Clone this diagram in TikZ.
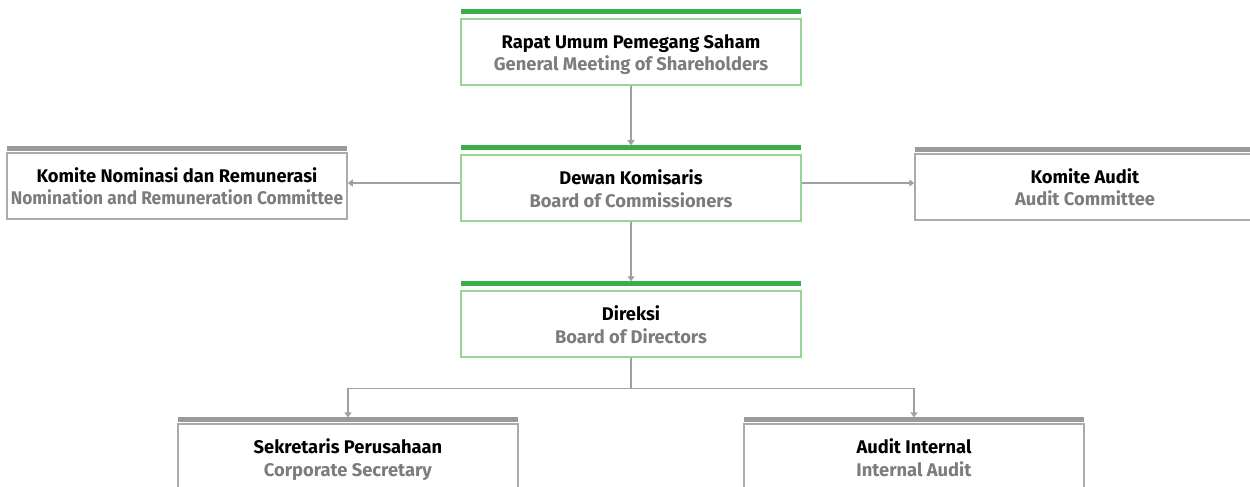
\documentclass[tikz,border=0pt]{standalone}
\usepackage{fontspec}
\setmainfont{Fira Sans}
\usetikzlibrary{arrows.meta,calc,positioning}
\definecolor{gbar}{HTML}{3BAE49}
\definecolor{gline}{HTML}{98D398}
\definecolor{graybar}{HTML}{9A9A9A}
\definecolor{grayline}{HTML}{ABABAB}
\definecolor{subtxt}{HTML}{7C7C7C}
\definecolor{conn}{HTML}{A0A0A0}
\begin{document}
\begin{tikzpicture}[x=0.6pt,y=-0.6pt,
  box/.style={draw, line width=0.9pt, minimum width=204pt, minimum height=39.6pt, inner sep=0pt,
    align=center, font=\fontsize{11}{13.8}\selectfont, text height=25.6pt, text depth=2.8pt},
  gbox/.style={box, draw=gline},
  ybox/.style={box, draw=grayline},
  gbarn/.style={fill=gbar, minimum width=204.5pt, minimum height=3pt, inner sep=0pt, outer sep=0pt},
  ybarn/.style={fill=graybar, minimum width=204.5pt, minimum height=3pt, inner sep=0pt, outer sep=0pt},
  conn/.style={draw=conn, line width=0.8pt},
  arr/.style={conn, -{Triangle[width=4.2pt,length=3pt]}}
]
\useasboundingbox (0,0) rectangle (1250,487);
\clip (0,0) rectangle (1250,487);
\newcommand{\two}[2]{\textbf{#1}\\{\color{subtxt}\textbf{#2}}}
% central column
\node[gbox] (rups) at (631,52) {\two{Rapat Umum Pemegang Saham}{General Meeting of Shareholders}};
\node[gbarn, above=2.4pt of rups] (rupsbar) {};
\node[gbox] (dk) at (631,188) {\two{Dewan Komisaris}{Board of Commissioners}};
\node[gbarn, above=2.4pt of dk] (dkbar) {};
\node[gbox] (dir) at (631,324) {\two{Direksi}{Board of Directors}};
\node[gbarn, above=2.4pt of dir] (dirbar) {};
% committees
\node[ybox] (nom) at (177,186) {\two{Komite Nominasi dan Remunerasi}{\scalebox{0.945}[1]{Nomination and Remuneration Committee}}};
\node[ybarn, above=0.5pt of nom] (nombar) {};
\node[ybox] (aud) at (1085,187) {\two{Komite Audit}{Audit Committee}};
\node[ybarn, above=0.5pt of aud] (audbar) {};
% bottom units
\node[ybox] (sek) at (348,457) {\two{Sekretaris Perusahaan}{Corporate Secretary}};
\node[ybarn, above=0.5pt of sek] (sekbar) {};
\node[ybox] (ai) at (914,457) {\two{Audit Internal}{Internal Audit}};
\node[ybarn, above=0.5pt of ai] (aibar) {};
% connectors
\draw[arr] (rups.south) -- (dkbar.north);
\draw[arr] (dk.south) -- (dirbar.north);
\draw[arr] ($(dk.west)+(0,-5)$) -- ($(nom.east)+(0,-3)$);
\draw[arr] ($(dk.east)+(0,-5)$) -- ($(aud.west)+(0,-4)$);
\coordinate (split) at ($(dir.south)+(0,31)$);
\draw[conn] (dir.south) -- (split);
\draw[arr] (split) -| (sekbar.north);
\draw[arr] (split) -| (aibar.north);
\end{tikzpicture}
\end{document}
